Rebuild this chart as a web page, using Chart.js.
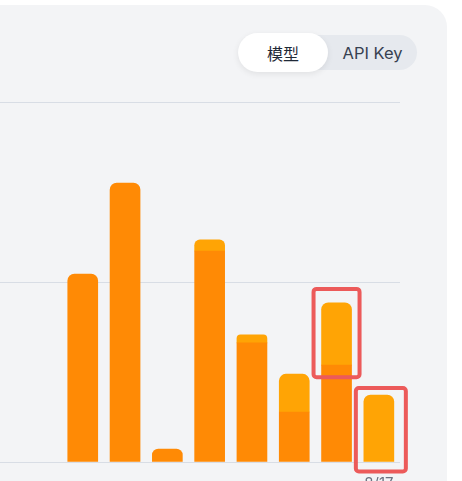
<!DOCTYPE html>
<html>
<head>
<meta charset="utf-8">
<script src="https://cdn.jsdelivr.net/npm/chart.js@4/dist/chart.umd.min.js"></script>
<style>
  html, body { margin:0; padding:0; background:#ffffff; width:462px; height:481px; overflow:hidden; position:relative; font-family: Inter, "Noto Sans CJK SC", "Noto Sans", sans-serif; }
  #card { position:absolute; left:-40px; top:5px; width:487px; height:600px; background:#f3f4f6; border-top-right-radius:22px; }
  #wrap { position:absolute; left:-23px; top:92px; width:460px; height:410px; }
  #toggle { position:absolute; left:238px; top:35px; width:179px; height:35px; background:#e6e9ee; border-radius:18px; }
  #pillOn { position:absolute; left:238px; top:33px; width:90px; height:39px; background:#ffffff; border-radius:20px; box-shadow:0 2px 6px rgba(0,0,0,0.08); display:flex; align-items:center; justify-content:center; font-size:16px; font-weight:400; color:#1f2937; font-family:"Noto Sans CJK SC", sans-serif; }
  #pillOff { position:absolute; left:328px; top:35px; width:89px; height:35px; display:flex; align-items:center; justify-content:center; font-size:16.5px; font-weight:400; color:#374151; }
</style>
</head>
<body>
<div id="card"></div>
<div id="wrap"><canvas id="c"></canvas></div>
<div id="toggle"></div>
<div id="pillOn">模型</div>
<div id="pillOff">API Key</div>
<script>
const categories = ['8/8','8/9','8/10','8/11','8/12','8/13','8/14','8/15','8/16','8/17'];
const baseValues = [null, null, 52.2, 77.5, 3.6, 58.6, 33.1, 13.9, 26.9, null];
const topValues  = [null, null, null, null, null, 3.1, 2.2, 10.5, 17.3, 18.6];
const yTicks = [0, 50, 100];
const highlighted = [8, 9];

const DARK = '#ff8a05';
const LIGHT = '#ffa405';
const R = 7;

const highlightPlugin = {
  id: 'highlight',
  afterDatasetsDraw(chart) {
    const ctx = chart.ctx;
    const metaTop = chart.getDatasetMeta(1);
    const metaBase = chart.getDatasetMeta(0);
    const pads = [
      {l:10, r:10, t:16, b:14},
      {l:10, r:14, t:9, b:12}
    ];
    ctx.save();
    ctx.strokeStyle = '#ec5a5a';
    ctx.lineWidth = 4;
    highlighted.forEach((idx, k) => {
      const bt = metaTop.data[idx];
      const bb = metaBase.data[idx];
      const half = bt.width / 2;
      const top = bt.y;
      const bottom = baseValues[idx] ? bb.y : bt.base;
      const p = pads[k];
      const x0 = bt.x - half - p.l + 2, x1 = bt.x + half + p.r - 2;
      const y0 = top - p.t + 2, y1 = bottom + p.b - 2;
      ctx.beginPath();
      ctx.roundRect(x0, y0, x1 - x0, y1 - y0, 3);
      ctx.stroke();
    });
    ctx.restore();
  }
};

new Chart(document.getElementById('c'), {
  type: 'bar',
  data: {
    labels: categories,
    datasets: [
      {
        data: baseValues,
        backgroundColor: DARK,
        borderWidth: 0,
        borderSkipped: 'start',
        borderRadius: (c) => topValues[c.dataIndex] ? 0 : {topLeft:R, topRight:R, bottomLeft:0, bottomRight:0},
        barThickness: 30
      },
      {
        data: topValues,
        backgroundColor: LIGHT,
        borderWidth: 0,
        borderSkipped: 'start',
        borderRadius: {topLeft:R, topRight:R, bottomLeft:0, bottomRight:0},
        barThickness: 30
      }
    ]
  },
  options: {
    responsive: true,
    maintainAspectRatio: false,
    animation: false,
    layout: { padding: { top: 10, right: 37, left: 0, bottom: 0 } },
    plugins: { legend: { display: false }, tooltip: { enabled: false } },
    scales: {
      x: {
        stacked: true,
        grid: { display: false },
        border: { display: false },
        afterFit: (s) => { s.height = 40; },
        ticks: {
          autoSkip: false,
          maxRotation: 0,
          padding: 4,
          color: '#6b7280',
          font: { size: 15, family: 'Inter' },
          callback: function(v, i) { return i === categories.length - 1 ? categories[i] : ''; }
        }
      },
      y: {
        stacked: true,
        min: yTicks[0],
        max: yTicks[yTicks.length - 1],
        afterBuildTicks: (s) => { s.ticks = yTicks.map(v => ({ value: v })); },
        afterFit: (s) => { s.width = 0; },
        grid: { color: '#d8dde5', lineWidth: 1, drawTicks: false },
        border: { display: false },
        ticks: { display: false }
      }
    }
  },
  plugins: [highlightPlugin]
});
</script>
</body>
</html>
